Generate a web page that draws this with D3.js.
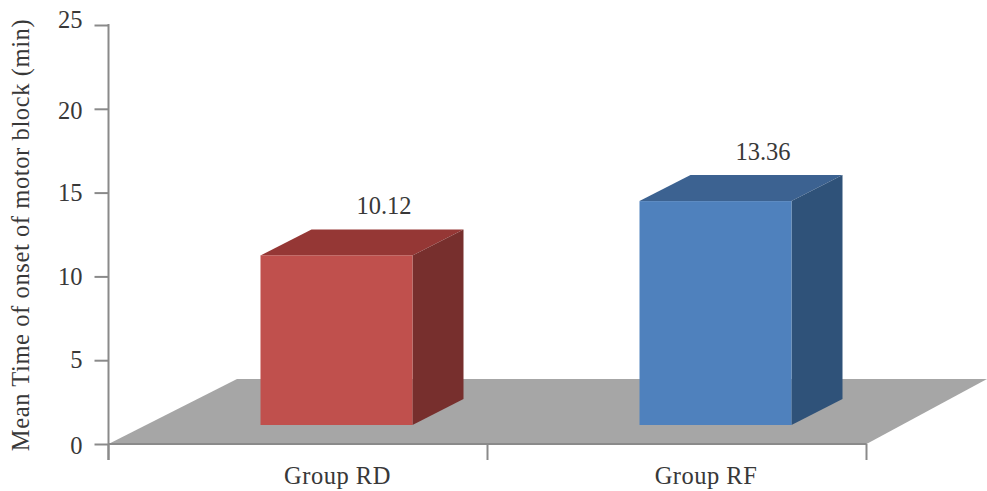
<!DOCTYPE html>
<html>
<head>
<meta charset="utf-8">
<script src="https://cdn.jsdelivr.net/npm/d3@7/dist/d3.min.js"></script>
<style>
  html, body { margin: 0; padding: 0; background: #fff; }
  svg { display: block; }
  text { font-family: "Liberation Serif", serif; fill: #383838; }
</style>
</head>
<body>
<svg id="chart" width="987" height="491"></svg>
<script>
const groups = ["Group RD", "Group RF"];
const onsetMinutes = [10.12, 13.36];
const valueLabels = ["10.12", "13.36"];
const yTicks = [0, 5, 10, 15, 20, 25];
const axisTitle = "Mean Time of onset of motor block (min)";

const frontColors = ["#C0504D", "#4F81BD"];
const topColors = ["#953735", "#3C6291"];
const sideColors = ["#772F2D", "#2F5279"];

const svg = d3.select("#chart");
const y = d3.scaleLinear().domain([0, 25]).range([444, 25]);
const x = d3.scaleBand().domain(groups).range([108.5, 866.5]);

// Oblique projection used by the floor and the bars
const depthX = 51, depthY = -26, baseLift = 19, barWidth = 152, barShift = 38.5;
const axisColor = "#8A8A8A";
const fontSize = 24.5;

const poly = pts => d3.line()(pts) + "Z";

// Floor
svg.append("path")
  .attr("d", poly([[x.range()[0], y(0)], [237, 379], [987, 379], [x.range()[1], y(0)]]))
  .attr("fill", "#A6A6A6");

// Value axis
const tickLabelNudge = { 0: 2, 5: -1, 10: 0, 15: 0, 20: 2, 25: -5 };
const yAxis = d3.axisLeft(y).tickValues(yTicks).tickSize(14).tickPadding(12).tickSizeOuter(0);
const yG = svg.append("g").attr("transform", "translate(108.5,0)").call(yAxis);
yG.select(".domain").remove();
yG.selectAll(".tick line").attr("stroke", axisColor).attr("stroke-width", 2);
yG.selectAll(".tick text")
  .attr("font-size", fontSize)
  .attr("y", d => tickLabelNudge[d])
  .style("font-family", '"Liberation Serif", serif')
  .attr("fill", "#383838");

svg.append("line")
  .attr("x1", 108.5).attr("x2", 108.5).attr("y1", y(25) - 1).attr("y2", 460)
  .attr("stroke", axisColor).attr("stroke-width", 2);

// Category axis
svg.append("line")
  .attr("x1", 108.5).attr("x2", x.range()[1]).attr("y1", y(0)).attr("y2", y(0))
  .attr("stroke", axisColor).attr("stroke-width", 2);
const edges = [x.range()[0], x(groups[1]), x.range()[1]];
svg.selectAll("line.edge").data(edges).join("line")
  .attr("class", "edge")
  .attr("x1", d => d).attr("x2", d => d).attr("y1", y(0)).attr("y2", 460)
  .attr("stroke", axisColor).attr("stroke-width", 2);

// Bars: front, top and side faces
const bars = svg.selectAll("g.bar").data(groups).join("g").attr("class", "bar");
const left = g => x(g) + (x.bandwidth() - barWidth) / 2 + barShift;
const topY = (i) => y(onsetMinutes[i]) - baseLift;
const baseY = y(0) - baseLift;

bars.append("path")
  .attr("d", (g, i) => poly([
    [left(g), topY(i)], [left(g) + depthX, topY(i) + depthY],
    [left(g) + barWidth + depthX, topY(i) + depthY], [left(g) + barWidth, topY(i)]
  ]))
  .attr("fill", (g, i) => topColors[i]);
bars.append("path")
  .attr("d", (g, i) => poly([
    [left(g) + barWidth, topY(i)], [left(g) + barWidth + depthX, topY(i) + depthY],
    [left(g) + barWidth + depthX, baseY + depthY], [left(g) + barWidth, baseY]
  ]))
  .attr("fill", (g, i) => sideColors[i]);
bars.append("rect")
  .attr("x", left).attr("y", (g, i) => topY(i))
  .attr("width", barWidth).attr("height", (g, i) => baseY - topY(i))
  .attr("fill", (g, i) => frontColors[i]);

// Value labels
bars.append("text")
  .attr("x", g => left(g) + barWidth / 2 + 47.5)
  .attr("y", (g, i) => topY(i) + depthY - 15.5)
  .attr("text-anchor", "middle").attr("font-size", fontSize)
  .text((g, i) => valueLabels[i]);

// Category labels
const labelShift = [39.5, 29];
svg.selectAll("text.cat").data(groups).join("text")
  .attr("class", "cat")
  .attr("x", (g, i) => x(g) + x.bandwidth() / 2 + labelShift[i])
  .attr("y", 483.5)
  .attr("text-anchor", "middle").attr("font-size", fontSize).attr("letter-spacing", 0.5)
  .text(g => g);

// Value axis title
svg.append("text")
  .attr("transform", "translate(29,235) rotate(-90)")
  .attr("text-anchor", "middle").attr("font-size", fontSize).attr("letter-spacing", 0.6)
  .text(axisTitle);
</script>
</body>
</html>
